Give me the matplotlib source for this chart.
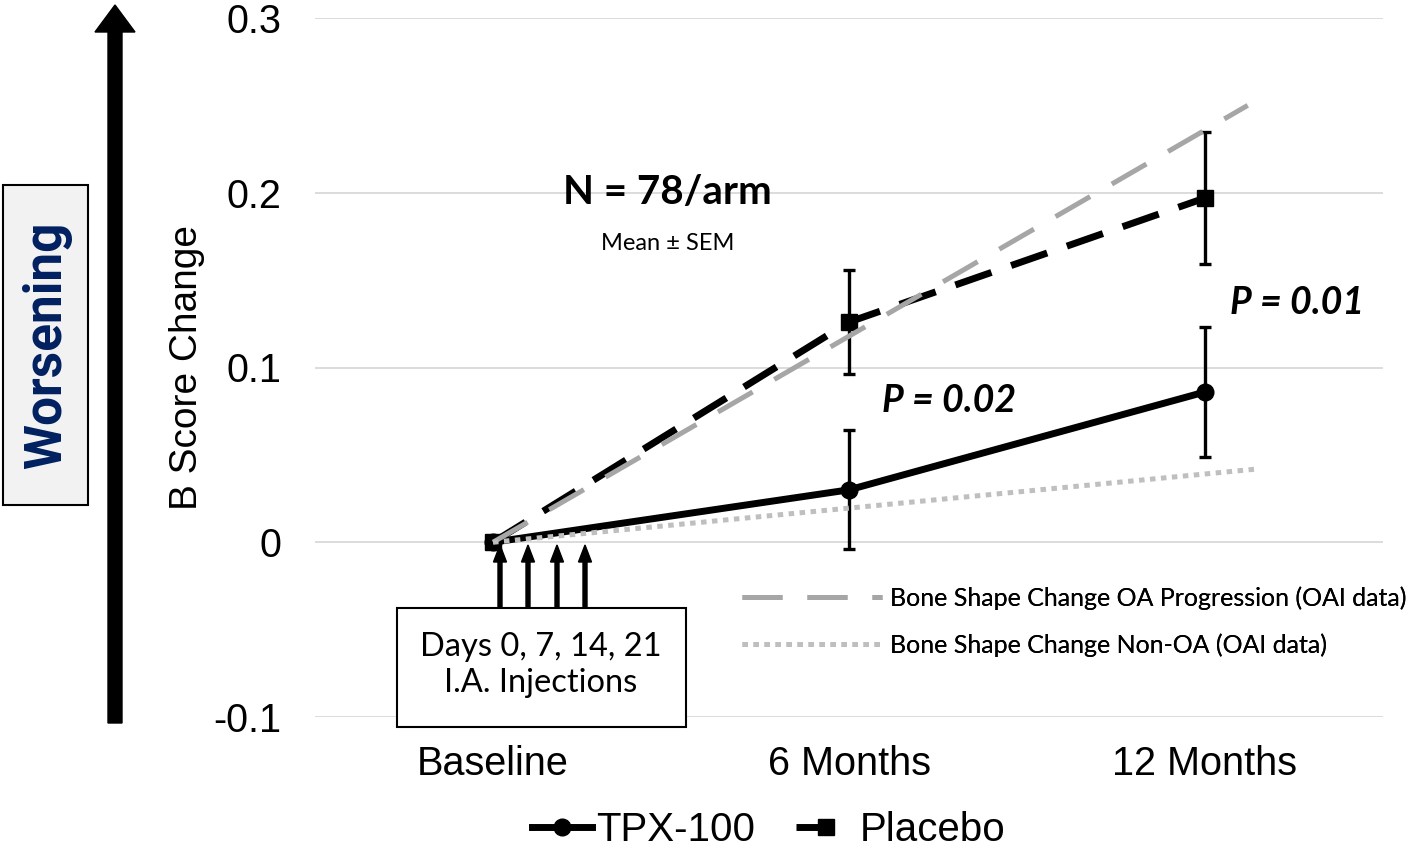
import matplotlib
matplotlib.use("Agg")
import matplotlib.pyplot as plt
from matplotlib.lines import Line2D
from matplotlib.patches import Rectangle, FancyArrow

# data
categories = ["Baseline", "6 Months", "12 Months"]
tpx_mean = [0.0, 0.030, 0.086]
tpx_sem = [0.0, 0.034, 0.037]
placebo_mean = [0.0, 0.126, 0.197]
placebo_sem = [0.0, 0.030, 0.038]

# OAI reference lines (start, end)
oa_prog_x = [0.0, 2.12]
oa_prog_y = [0.0, 0.250]
non_oa_x = [0.0, 2.15]
non_oa_y = [0.0, 0.042]

yticks = [-0.1, 0.0, 0.1, 0.2, 0.3]
ytick_labels = ["-0.1", "0", "0.1", "0.2", "0.3"]

ARIAL = ["Liberation Sans", "DejaVu Sans"]
NARROW = ["Liberation Sans Narrow", "Roboto", "DejaVu Sans"]
CALIBRI = ["Lato", "DejaVu Sans"]

W, H = 1418, 850
fig = plt.figure(figsize=(W / 100, H / 100), dpi=100)
ax = fig.add_axes([315 / W, 1 - 717 / H, (1383 - 315) / W, (717 - 18) / H])

x = list(range(len(categories)))

# gridlines
ax.set_ylim(-0.1, 0.3)
ax.set_xlim(-0.5, 2.5)
ax.set_yticks(yticks)
ax.set_yticklabels(ytick_labels, fontfamily=ARIAL, fontsize=28.5)
ax.set_xticks(x)
ax.set_xticklabels(categories, fontfamily=ARIAL, fontsize=28.5)
ax.tick_params(axis="y", length=0, pad=24)
ax.tick_params(axis="x", length=0, pad=20)
ax.grid(axis="y", color="#d9d9d9", lw=1.3)
ax.set_axisbelow(True)
for s in ax.spines.values():
    s.set_visible(False)

# series
ax.errorbar(x, tpx_mean, yerr=tpx_sem, color="black", lw=5, marker="o", ms=12,
            elinewidth=2.4, capsize=4, capthick=2.4, zorder=3)
pl = ax.errorbar(x, placebo_mean, yerr=placebo_sem, color="black", lw=5, marker="s", ms=11,
                 elinewidth=2.4, capsize=4, capthick=2.4, zorder=3)
pl[0].set_linestyle((0, (5.5, 3)))

ax.plot(oa_prog_x, oa_prog_y, color="#a6a6a6", lw=3.6, linestyle=(0, (8, 5)), zorder=4)
ax.plot(non_oa_x, non_oa_y, color="#bfbfbf", lw=3.6, linestyle=(0, (1.1, 1.1)), zorder=4)

# annotations
ax.text(0.49, 0.200, "N = 78/arm", fontfamily=CALIBRI, fontsize=29, fontweight="bold",
        ha="center", va="center")
ax.text(0.49, 0.171, "Mean ± SEM", fontfamily=CALIBRI, fontsize=17, ha="center", va="center")
ax.text(1.28, 0.081, "P = 0.02", fontfamily=CALIBRI, fontsize=27, fontweight="bold",
        fontstyle="italic", ha="center", va="center")
ax.text(2.26, 0.137, "P = 0.01", fontfamily=CALIBRI, fontsize=27, fontweight="bold",
        fontstyle="italic", ha="center", va="center")

ax.set_ylabel("B Score Change", fontfamily=ARIAL, fontsize=28, labelpad=6)

# inner legend for OAI lines
oai_handles = [
    Line2D([], [], color="#a6a6a6", lw=3.6, linestyle=(0, (8, 5))),
    Line2D([], [], color="#bfbfbf", lw=3.6, linestyle=(0, (1.1, 1.1))),
]
leg1 = ax.legend(oai_handles, ["Bone Shape Change OA Progression (OAI data)",
                               "Bone Shape Change Non-OA (OAI data)"],
                 prop={"family": CALIBRI, "size": 18}, frameon=False,
                 loc="upper left", bbox_to_anchor=((742 - 315) / (1383 - 315), (717 - 586) / (717 - 18)),
                 handlelength=5.6, handletextpad=0.3, labelspacing=0.95, borderaxespad=0,
                 borderpad=0)
ax.add_artist(leg1)

# bottom legend
h_tpx = Line2D([], [], color="black", lw=5, marker="o", ms=12)
h_pl = Line2D([], [], color="black", lw=5, marker="s", ms=11, linestyle=(0, (4.3, 10)))
fig.legend([h_tpx, h_pl], ["TPX-100", "Placebo"], loc="center", ncol=2,
           bbox_to_anchor=(769 / W, 1 - 830 / H), frameon=False,
           prop={"family": ARIAL, "size": 29}, handlelength=1.5, handletextpad=0.1,
           columnspacing=1.0)

# figure-level decorations (pixel positions from top-left)
tr = fig.dpi_scale_trans


def px(xp, yp):
    return xp / 100, (H - yp) / 100


# big "worsening" arrow
x0, y0 = px(115, 723)
fig.add_artist(FancyArrow(x0, y0, 0, 7.18 - 0.27, width=0.14, head_width=0.40,
                          head_length=0.27, length_includes_head=False,
                          color="black", transform=tr))

# Worsening box
bx, by = px(3, 505)
fig.add_artist(Rectangle((bx, by), 0.85, 3.20, facecolor="#f2f2f2", edgecolor="black",
                         lw=1.5, transform=tr))
tx, ty = px(47, 345)
fig.text(tx, ty, "Worsening", transform=tr, rotation=90, ha="center", va="center",
         color="#002060", fontsize=37, fontweight="bold", fontfamily=NARROW)

# injection box and arrows
ix, iy = px(397, 727)
fig.add_artist(Rectangle((ix, iy), 2.89, 1.19, facecolor="white", edgecolor="black",
                         lw=1.5, transform=tr))
cx, cy = px(541, 665)
fig.text(cx, cy, "Days 0, 7, 14, 21\nI.A. Injections", transform=tr, ha="center",
         va="center", fontsize=23.5, fontfamily=CALIBRI, linespacing=1.25)
for xp in [500, 528, 557, 585]:
    ax0, ay0 = px(xp, 608)
    fig.add_artist(FancyArrow(ax0, ay0, 0, 0.63 - 0.17, width=0.04, head_width=0.13,
                              head_length=0.17, color="black", transform=tr, zorder=5))

fig.savefig("out.png", dpi=100)
